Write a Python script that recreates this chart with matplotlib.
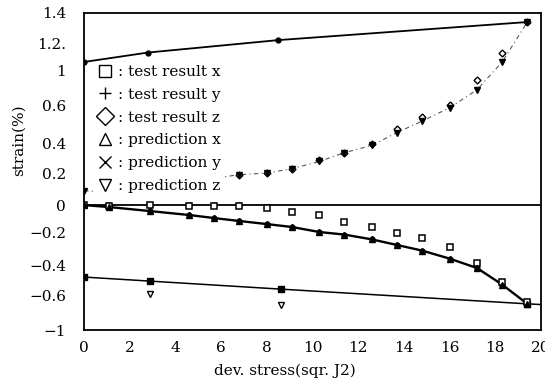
import numpy as np
import matplotlib
matplotlib.use("Agg")
import matplotlib.pyplot as plt
from matplotlib.lines import Line2D

# ── Data ───────────────────────────────────────────────────────
# y axis of the original is a non-uniform ruler: tick labels and their
# relative heights on the frame
YTICKS = [-1, -0.6, -0.4, -0.2, 0, 0.2, 0.4, 0.6, 1, 1.2, 1.4]
YTICK_LABELS = ["\u22121", "\u22120.6", "\u22120.4", "\u22120.2", "0",
                "0.2", "0.4", "0.6", "1", "1.2.", "1.4"]
ytick_frac = [0, 0.110, 0.205, 0.306, 0.394, 0.495, 0.587, 0.707, 0.820, 0.905, 1.0]

XTICKS = [0, 2, 4, 6, 8, 10, 12, 14, 16, 18, 20]

# top straight line
top_x = [0, 2.8, 8.5, 19.4]
top_y = [1.06, 1.13, 1.22, 1.34]

# rising dotted curve: prediction z
pz_x = [0, 1.1, 6.8, 8.0, 9.1, 10.3, 11.4, 12.6, 13.7, 14.8, 16.0, 17.2, 18.3, 19.4]
pz_y = [0.09, 0.08, 0.19, 0.20, 0.23, 0.28, 0.34, 0.39, 0.46, 0.52, 0.59, 0.78, 1.06, 1.34]

# test result z
tz_x = [6.8, 8.0, 9.1, 10.3, 11.4, 12.6, 13.7, 14.8, 16.0, 17.2, 18.3, 19.4]
tz_y = [0.19, 0.20, 0.23, 0.29, 0.34, 0.40, 0.48, 0.54, 0.61, 0.89, 1.13, 1.34]

# test result x (near zero, bending down)
tx_x = [0, 1.1, 2.9, 4.6, 5.7, 6.8, 8.0, 9.1, 10.3, 11.4, 12.6, 13.7, 14.8, 16.0, 17.2, 18.3, 19.4]
tx_y = [0, -0.005, 0, -0.005, -0.01, -0.01, -0.02, -0.05, -0.07, -0.12, -0.16,
        -0.20, -0.23, -0.29, -0.39, -0.51, -0.68]

# zero line points
zero_x = [0, 1.1, 2.9, 4.6, 5.7, 6.8]
zero_y = [0, 0, 0, 0, 0, 0]

# decreasing curve: prediction x / y
px_x = [0, 1.1, 2.9, 4.6, 5.7, 6.8, 8.0, 9.1, 10.3, 11.4, 12.6, 13.7, 14.8, 16.0, 17.2, 18.3, 19.4]
px_y = [0, -0.014, -0.043, -0.071, -0.093, -0.114, -0.136, -0.157, -0.193, -0.21,
        -0.24, -0.275, -0.31, -0.36, -0.42, -0.53, -0.70]

# lower straight line
low_x = [0, 2.9, 8.6, 19.4, 20]
low_y = [-0.48, -0.507, -0.56, -0.70, -0.708]
low_mark_x = [0, 2.9, 8.6, 19.4]
low_mark_y = [-0.48, -0.507, -0.56, -0.70]

# test result y below the lower line
ty_x = [2.9, 8.6]
ty_y = [-0.59, -0.71]

LEGEND_LABELS = [": test result x", ": test result y", ": test result z",
                 ": prediction x", ": prediction y", ": prediction z"]
LEGEND_MARKERS = ["s", "+", "D", "^", "x", "v"]


def fwd(v):
    return np.interp(v, YTICKS, ytick_frac)


def inv(f):
    return np.interp(f, ytick_frac, YTICKS)


def main():
    plt.rcParams["font.family"] = ["DejaVu Serif"]
    plt.rcParams["font.size"] = 11

    fig = plt.figure(figsize=(5.45, 3.8), dpi=100)
    ax = fig.add_axes([84 / 545, 50 / 380, 457 / 545, 317 / 380])

    ax.set_yscale("function", functions=(fwd, inv))

    # lines
    ax.axhline(0, color="black", lw=1.3, zorder=2)
    ax.plot(top_x, top_y, color="black", lw=1.3, marker="o", ms=3.5)
    ax.plot(pz_x, pz_y, color="0.35", lw=0.8, ls=(0, (4, 3, 1, 3)), zorder=1)
    ax.plot(px_x, px_y, color="black", lw=1.7, marker="o", ms=3.5)
    ax.plot(low_x, low_y, color="black", lw=1.1)
    ax.plot(low_mark_x, low_mark_y, ls="none", marker="s", ms=4, color="black")
    ax.plot(zero_x, zero_y, ls="none", marker="o", ms=3.5, color="black")

    # scatter of test results / predictions
    ax.plot(tx_x, tx_y, ls="none", marker="s", ms=4, mfc="white", mec="black", mew=1.1)
    ax.plot(tz_x, tz_y, ls="none", marker="D", ms=3.5, mfc="white", mec="black", mew=1.0)
    ax.plot(pz_x, pz_y, ls="none", marker="v", ms=4.5, color="black")
    ax.plot(px_x, px_y, ls="none", marker="^", ms=4, color="black")
    ax.plot(ty_x, ty_y, ls="none", marker="v", ms=4, mfc="white", mec="black", mew=1.0)

    ax.set_xlim(0, 20)
    ax.set_ylim(-1, 1.4)
    ax.set_xticks(XTICKS)
    ax.set_yticks(YTICKS)
    ax.set_yticklabels(YTICK_LABELS)
    ax.minorticks_off()
    ax.tick_params(axis="both", length=0, labelsize=11)
    ax.tick_params(axis="y", pad=13)
    ax.tick_params(axis="x", pad=8)
    for s in ax.spines.values():
        s.set_linewidth(1.3)

    ax.set_xlabel("dev. stress(sqr. J2)", fontsize=11)
    ax.xaxis.set_label_coords(0.44, -0.105)
    ax.set_ylabel("strain(%)", fontsize=11)
    ax.yaxis.set_label_coords(-0.128, 0.60)

    handles = [Line2D([], [], ls="none", marker=m, ms=9, mfc="white",
                      mec="black", color="black", mew=1.0)
               for m in LEGEND_MARKERS]
    leg = ax.legend(handles, LEGEND_LABELS, loc="upper left",
                    bbox_to_anchor=(0.005, 0.87), frameon=True,
                    facecolor="white", edgecolor="none", framealpha=1,
                    handlelength=1.0, handletextpad=0.4, labelspacing=0.58,
                    borderpad=0.2, fontsize=11)
    leg.set_zorder(5)

    fig.savefig("out.png", dpi=100)


if __name__ == "__main__":
    main()
